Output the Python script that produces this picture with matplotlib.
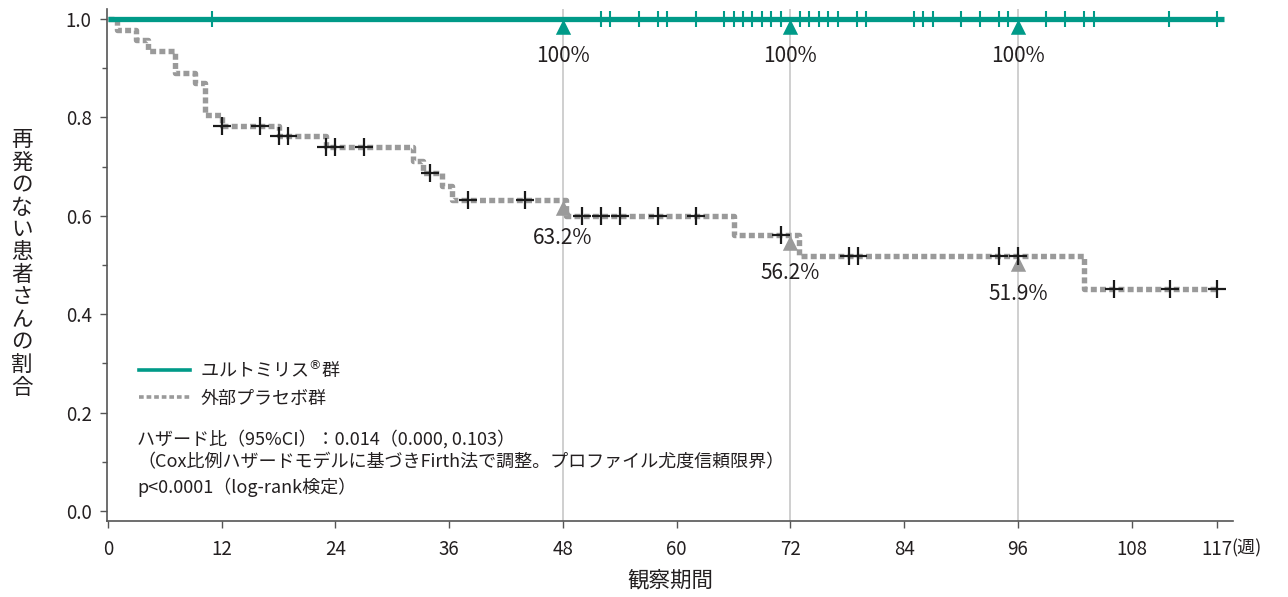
import numpy as np
import matplotlib
matplotlib.use('Agg')
import matplotlib.pyplot as plt
from matplotlib.lines import Line2D

plt.rcParams['font.family'] = ['Noto Sans CJK JP', 'DejaVu Sans']

# ユルトミリス群: no relapse, censored times (weeks)
ult_end = 117.8
ult_censor = [11, 52, 53, 56, 58, 59, 62, 65, 66, 67, 68, 69, 70, 71,
              73, 74, 75, 76, 77, 79, 80, 85, 86, 87, 90, 92, 94, 95,
              99, 101, 103, 104, 112, 117]

# 外部プラセボ群: step times and survival after each step
plc_t = [0, 1, 3, 4.2, 7.1, 9.2, 10.2, 12, 18, 23, 32.2, 33.2, 35.2, 36.3,
         48.3, 66.1, 72.9, 103]
plc_s = [1.0, 0.978, 0.957, 0.935, 0.891, 0.870, 0.804, 0.783, 0.763, 0.740,
         0.712, 0.687, 0.660, 0.632, 0.600, 0.562, 0.519, 0.452]
plc_end = 117
plc_censor = [12, 16, 18, 19, 23, 24, 27, 34, 38, 44, 50, 52, 54, 58, 62,
              71, 78.2, 79.1, 94, 96, 106.1, 112.1, 117]

# landmark estimates
mark_weeks = [48, 72, 96]
ult_mark = [1.0, 1.0, 1.0]
ult_mark_lbl = ['100%', '100%', '100%']
plc_mark = [0.632, 0.562, 0.519]
plc_mark_lbl = ['63.2%', '56.2%', '51.9%']

xticks = [0, 12, 24, 36, 48, 60, 72, 84, 96, 108, 117]
yticks = [0.0, 0.2, 0.4, 0.6, 0.8, 1.0]

teal = '#009a88'
grey = '#9a9a9a'
txt = '#231f20'
axc = '#555555'

W, H = 1288, 597
fig = plt.figure(figsize=(W / 100, H / 100), dpi=100)
ax = fig.add_axes([107 / W, 1 - 520.5 / H, 1126 / W, 511.5 / H])
ax.set_xlim(-0.1, 118.7)
ax.set_ylim(-0.0195, 1.0205)

# vertical reference lines
for w in mark_weeks:
    ax.axvline(w, color='#cccccc', lw=1.3, zorder=1)

def step_value(t):
    i = np.searchsorted(plc_t, t, side='right') - 1
    return plc_s[i]

# placebo curve
xs = plc_t + [plc_end]
ys = plc_s + [plc_s[-1]]
ax.step(xs, ys, where='post', color=grey, lw=3.9,
        linestyle=(0, (1.1, 0.6)), zorder=3)
ax.plot(plc_censor, [step_value(t) for t in plc_censor], ls='none',
        marker='+', ms=13, mew=1.6, color='#1a1a1a', zorder=5)

# ultomiris curve
ax.plot([0, ult_end], [1.0, 1.0], color=teal, lw=3.8, zorder=4,
        solid_capstyle='butt')
ax.plot(ult_censor, [1.0] * len(ult_censor), ls='none', marker='|',
        ms=11, mew=1.5, color=teal, zorder=4)

# triangles with tip on the curve
tri = [(0, 0), (-0.5, -1), (0.5, -1), (0, 0)]
ax.plot(mark_weeks, ult_mark, ls='none', marker=tri, ms=22,
        color=teal, mew=0, zorder=4)
ax.plot(mark_weeks, plc_mark, ls='none', marker=tri, ms=22,
        color=grey, mew=0, zorder=4)
for w, v, s in zip(mark_weeks, ult_mark, ult_mark_lbl):
    ax.annotate(s, (w, v), xytext=(0, -37), textcoords='offset pixels',
                ha='center', va='center', fontsize=15, color=txt)
for w, v, s in zip(mark_weeks, plc_mark, plc_mark_lbl):
    ax.annotate(s, (w, v), xytext=(0, -38), textcoords='offset pixels',
                ha='center', va='center', fontsize=15, color=txt)

# axes styling
for sp in ['top', 'right']:
    ax.spines[sp].set_visible(False)
for sp in ['left', 'bottom']:
    ax.spines[sp].set_color(axc)
    ax.spines[sp].set_linewidth(1.2)
ax.set_xticks(xticks)
ax.set_xticklabels([str(x) for x in xticks])
ax.set_yticks(yticks)
ax.set_yticklabels(['%.1f' % y for y in yticks])
ax.set_yticks(np.arange(0.1, 1.0, 0.2), minor=True)
ax.tick_params(axis='both', which='major', length=5, width=1, color=axc,
               labelsize=13.5, labelcolor=txt)
ax.tick_params(axis='x', pad=8)
ax.tick_params(axis='y', pad=6)
ax.tick_params(axis='y', which='minor', length=3.5, width=1, color=axc)

ax.annotate('(週)', (117, 0), xycoords=('data', 'axes fraction'),
            xytext=(14, -28), textcoords='offset pixels', ha='left',
            va='center', fontsize=13, color=txt)

# x label
fig.text(670 / W, 1 - 580 / H, '観察期間', ha='center', va='center',
         fontsize=15.5, color=txt)

# y label, upright characters stacked vertically
ylab = '再発のない患者さんの割合'
for i, ch in enumerate(ylab):
    fig.text(22 / W, 1 - (140 + i * 22.5) / H, ch, ha='center', va='center',
             fontsize=15.5, color=txt)

# legend
handles = [Line2D([], [], color=teal, lw=2.6),
           Line2D([], [], color=grey, lw=2.6, linestyle=(0, (1.3, 0.8)))]
leg = ax.legend(handles, ['ユルトミリス$^{\\circledR}$群', '外部プラセボ群'],
                loc='upper left', bbox_to_anchor=(0.022, 0.33),
                frameon=False, fontsize=13, handlelength=2.8,
                handletextpad=0.6, labelspacing=0.5, borderaxespad=0)
for t in leg.get_texts():
    t.set_color(txt)

note = ('ハザード比（95%CI）：0.014（0.000, 0.103）\n'
        '（Cox比例ハザードモデルに基づきFirth法で調整。プロファイル尤度信頼限界）\n'
        'p<0.0001（log-rank検定）')
fig.text(137 / W, 1 - 430 / H, note, ha='left', va='top', fontsize=13,
         color=txt, linespacing=1.35)

fig.savefig('out.png', dpi=100)
